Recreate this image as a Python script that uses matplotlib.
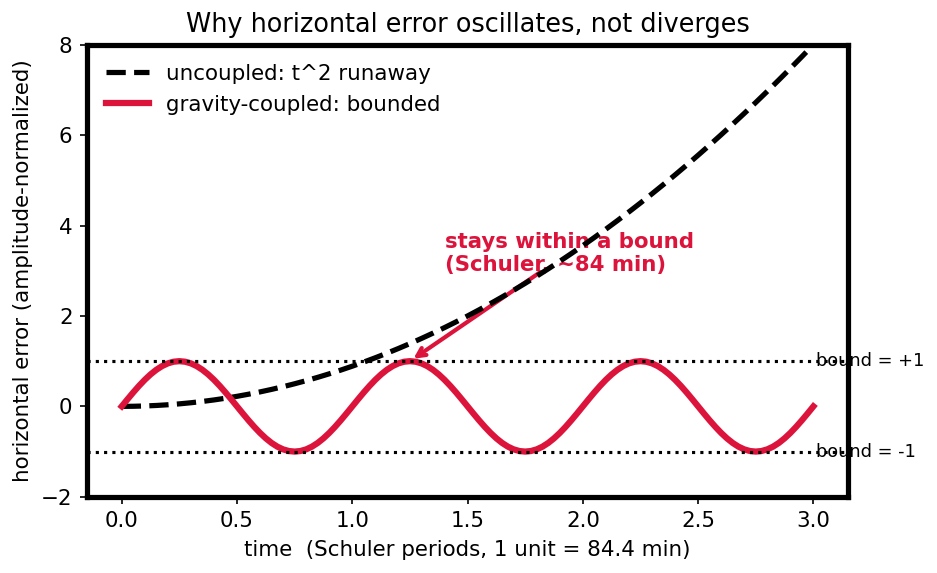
import numpy as np
import matplotlib
matplotlib.use("Agg")
import matplotlib.pyplot as plt

# time samples (Schuler periods)
time_coarse = np.linspace(0.0, 3.0, 61)
time_fine = np.linspace(0.0, 3.0, 121)

# uncoupled error (t^2 runaway, normalized), read at 0.05 steps
uncoupled = [0.0, 0.0022, 0.0089, 0.02, 0.0356, 0.0556, 0.08, 0.1089, 0.1422, 0.18,
             0.2222, 0.2689, 0.32, 0.3756, 0.4356, 0.5, 0.5689, 0.6422, 0.72, 0.8022,
             0.8889, 0.98, 1.0756, 1.1756, 1.28, 1.3889, 1.5022, 1.62, 1.7422, 1.8689,
             2.0, 2.1356, 2.2756, 2.42, 2.5689, 2.7222, 2.88, 3.0422, 3.2089, 3.38,
             3.5556, 3.7356, 3.92, 4.1089, 4.3022, 4.5, 4.7022, 4.9089, 5.12, 5.3356,
             5.5556, 5.78, 6.0089, 6.2422, 6.48, 6.7222, 6.9689, 7.22, 7.4756, 7.7356,
             8.0]

# gravity-coupled error (bounded oscillation), read at 0.025 steps
one_period = [0.0, 0.1564, 0.309, 0.454, 0.5878, 0.7071, 0.809, 0.891, 0.9511, 0.9877,
              1.0, 0.9877, 0.9511, 0.891, 0.809, 0.7071, 0.5878, 0.454, 0.309, 0.1564,
              0.0, -0.1564, -0.309, -0.454, -0.5878, -0.7071, -0.809, -0.891, -0.9511, -0.9877,
              -1.0, -0.9877, -0.9511, -0.891, -0.809, -0.7071, -0.5878, -0.454, -0.309, -0.1564]
coupled = one_period * 3 + [0.0]

bounds = [1.0, -1.0]
bound_labels = ["bound = +1", "bound = -1"]

crimson = "#DC143C"

fig = plt.figure(figsize=(937 / 150, 573 / 150), dpi=150)
ax = fig.add_axes([0.093, 0.133, 0.812, 0.789])

ax.plot(time_coarse, uncoupled, color="black", lw=2.5, ls=(0, (3.7, 1.6)), label="uncoupled: t^2 runaway")
ax.plot(time_fine, coupled, color=crimson, lw=3, label="gravity-coupled: bounded")

for b, lab in zip(bounds, bound_labels):
    ax.axhline(b, color="black", lw=1.5, ls=":")
    ax.text(3.01, b, lab, ha="left", va="center", fontsize=8.5, zorder=1.5)

ax.text(1.4, 3.0, "stays within a bound\n(Schuler, ~84 min)", color=crimson,
        fontweight="bold", fontsize=10.2, ha="left", va="baseline", zorder=1.5)
ax.annotate("", xy=(1.25, 1.0), xytext=(1.83, 3.02), zorder=1.5,
            arrowprops=dict(arrowstyle="->", color=crimson, lw=2))

ax.set_ylim(-2, 8)
ax.set_xlabel("time  (Schuler periods, 1 unit = 84.4 min)", fontsize=10.25)
ax.set_ylabel("horizontal error (amplitude-normalized)", fontsize=10.25)
ax.set_title("Why horizontal error oscillates, not diverges", fontsize=12.25)
ax.tick_params(labelsize=10.25)
for s in ax.spines.values():
    s.set_linewidth(2.5)
ax.legend(loc="upper left", frameon=False, fontsize=10.25)

fig.savefig("out.png", dpi=150)
